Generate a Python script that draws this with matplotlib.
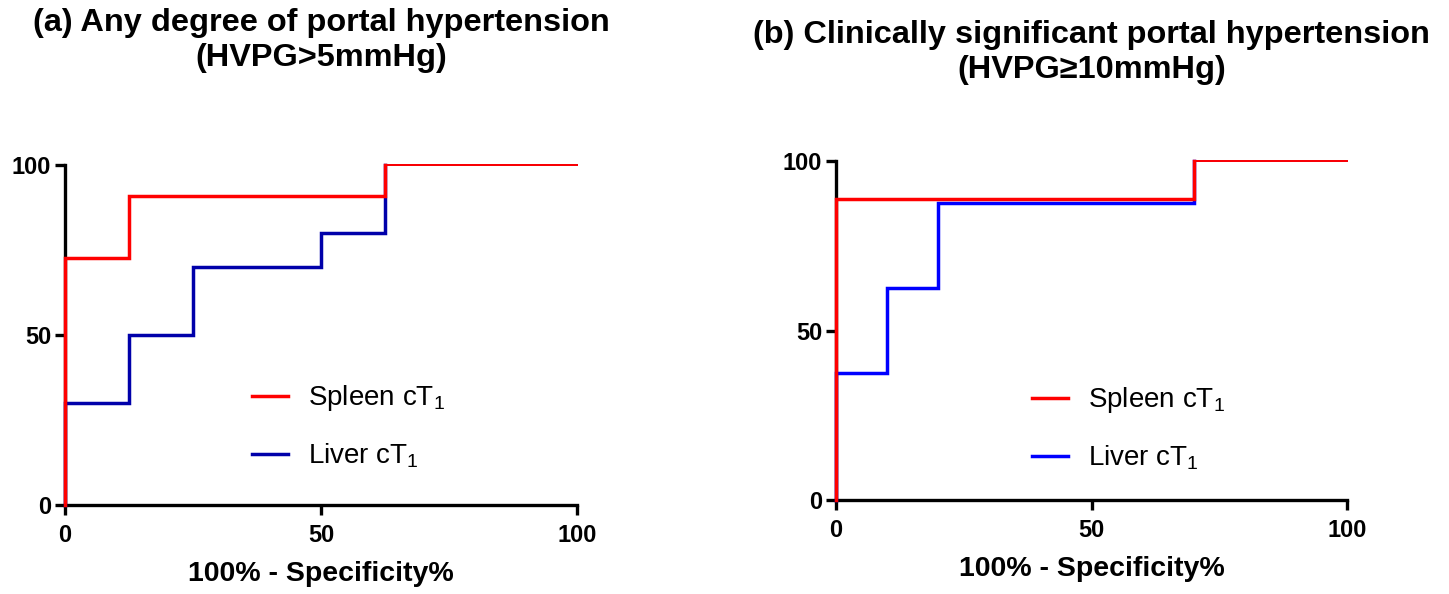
import matplotlib
matplotlib.use("Agg")
import matplotlib.pyplot as plt
from matplotlib.lines import Line2D

plt.rcParams['font.family'] = ['Liberation Sans', 'DejaVu Sans']
plt.rcParams['mathtext.fontset'] = 'custom'
plt.rcParams['mathtext.rm'] = 'Liberation Sans'

# ---------------------------------------------------------
# DATI ROC (100% - specificita, sensibilita)
# ---------------------------------------------------------
a_spleen_x = [0, 0, 12.5, 62.5, 100]
a_spleen_y = [0, 72.7, 90.9, 100, 100]
a_liver_x = [0, 0, 12.5, 25, 50, 62.5, 100]
a_liver_y = [0, 30, 50, 70, 80, 100, 100]

b_spleen_x = [0, 0, 70, 100]
b_spleen_y = [0, 88.9, 100, 100]
b_liver_x = [0, 0, 10, 20, 70, 100]
b_liver_y = [0, 37.5, 62.5, 87.5, 100, 100]

ticks = [0, 50, 100]
titles = ["(a) Any degree of portal hypertension\n(HVPG>5mmHg)",
          "(b) Clinically significant portal hypertension\n(HVPG\u226510mmHg)"]
labels = ["Spleen cT$\\mathregular{_1}$", "Liver cT$\\mathregular{_1}$"]

RED = "#ff0000"
BLUE_A = "#0000aa"
BLUE_B = "#0000ff"
LW = 2.5


def roc(ax, x, y, color, z):
    # gradini spessi, ultimo tratto sottile
    ax.plot(x[:-1], y[:-1], drawstyle="steps-post", color=color, lw=LW, zorder=z,
            solid_joinstyle="miter", clip_on=False)
    ax.plot(x[-2:], y[-2:], color=color, lw=1.4, zorder=z, clip_on=False)


def style(ax, title, ty):
    ax.set_xlim(0, 100)
    ax.set_ylim(0, 100)
    ax.set_xticks(ticks)
    ax.set_yticks(ticks)
    for s in ["top", "right"]:
        ax.spines[s].set_visible(False)
    for s in ["left", "bottom"]:
        ax.spines[s].set_linewidth(2.4)
    ax.tick_params(width=2.4, length=7)
    ax.tick_params(axis="x", pad=7)
    ax.tick_params(axis="y", pad=3)
    for t in ax.get_xticklabels() + ax.get_yticklabels():
        t.set_fontsize(17)
        t.set_fontweight("bold")
    ax.set_xlabel("100% - Specificity%", fontsize=20.5, fontweight="bold", labelpad=10)
    ax.text(0.5, ty, title, transform=ax.transAxes, ha="center", va="center",
            fontsize=23.4, fontweight="bold", linespacing=1.22)


fig = plt.figure(figsize=(14.49, 5.94), dpi=100)
ax1 = fig.add_axes([0.0449, 0.1498, 0.3533, 0.5724])
ax2 = fig.add_axes([0.5770, 0.1582, 0.3527, 0.5707])

roc(ax1, a_liver_x, a_liver_y, BLUE_A, 3)
roc(ax1, a_spleen_x, a_spleen_y, RED, 4)
roc(ax2, b_liver_x, b_liver_y, BLUE_B, 3)
roc(ax2, b_spleen_x, b_spleen_y, RED, 4)

style(ax1, titles[0], 1.365)
style(ax2, titles[1], 1.319)

for ax, blue, anchor in [(ax1, BLUE_A, (0.365, 0.358)), (ax2, BLUE_B, (0.384, 0.338))]:
    handles = [Line2D([], [], color=RED, lw=LW), Line2D([], [], color=blue, lw=LW)]
    ax.legend(handles, labels, loc="upper left", bbox_to_anchor=anchor, frameon=False,
              fontsize=20, handlelength=1.3, handletextpad=0.72, labelspacing=1.02,
              borderpad=0, borderaxespad=0)

fig.savefig("out.png", dpi=100, facecolor="white")
